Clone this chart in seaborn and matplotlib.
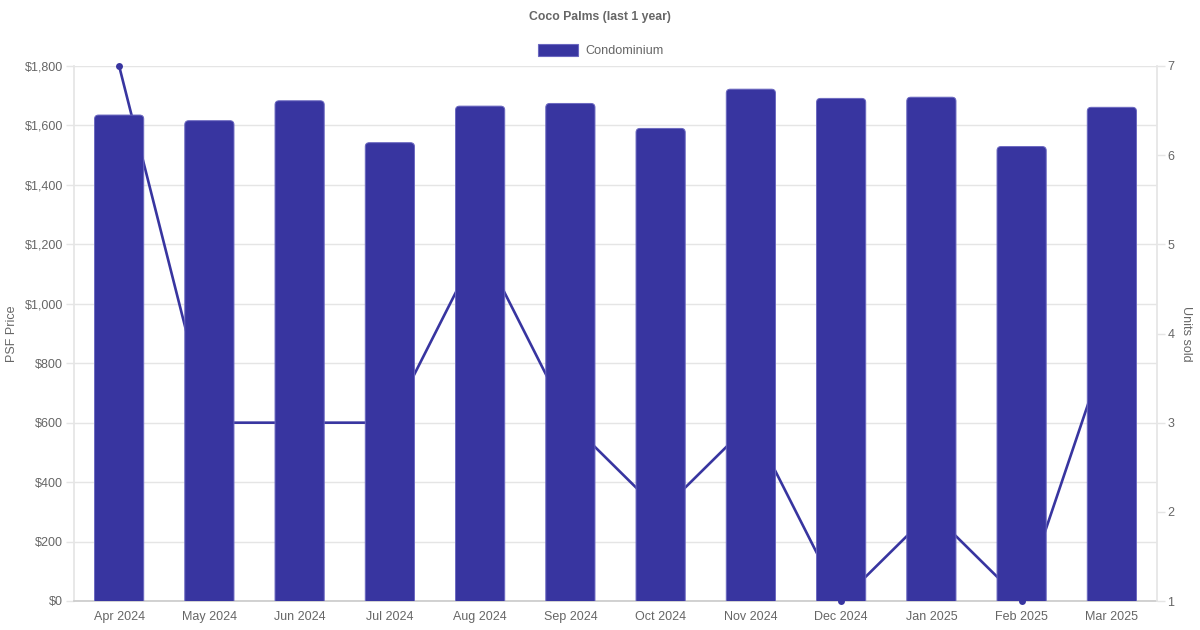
import matplotlib
matplotlib.use("Agg")
import matplotlib.pyplot as plt
import seaborn as sns
import pandas as pd
from matplotlib.patches import FancyBboxPatch
from matplotlib.ticker import FuncFormatter, MultipleLocator

months = ["Apr 2024", "May 2024", "Jun 2024", "Jul 2024", "Aug 2024", "Sep 2024",
          "Oct 2024", "Nov 2024", "Dec 2024", "Jan 2025", "Feb 2025", "Mar 2025"]
psf_price = [1635, 1616, 1683, 1542, 1665, 1674, 1590, 1722, 1691, 1695, 1529, 1661]
units_sold = [7, 3, 3, 3, 5, 3, 2, 3, 1, 2, 1, 4]

title = "Coco Palms (last 1 year)"
series_name = "Condominium"
left_label = "PSF Price"
right_label = "Units sold"

COLOR = "#3835A0"
EDGE = "#6B68C0"
TXT = "#666666"
GRID = "#e5e5e5"

df = pd.DataFrame({"month": months, "psf": psf_price, "units": units_sold})

sns.set_theme(style="white")
plt.rcParams["font.family"] = ["Liberation Sans", "DejaVu Sans"]

W, H = 1200, 630
fig = plt.figure(figsize=(12, 6.3), dpi=100)
L, R, T, B = 74, 1157, 66, 601
ax = fig.add_axes([L / W, (H - B) / H, (R - L) / W, (B - T) / H])
ax.set_zorder(0)

# line layer
ax_line = ax.twinx()
ax_line.set_zorder(1)
sns.lineplot(data=df, x="month", y="units", ax=ax_line, color=COLOR, linewidth=1.9,
             marker="o", markersize=5, markeredgewidth=0, sort=False)
for ln in ax_line.lines:
    ln.set_clip_on(False)

# bar layer
ax_bar = ax.twinx()
ax_bar.set_zorder(2)
sns.barplot(data=df, x="month", y="psf", ax=ax_bar, color=COLOR, width=0.545, saturation=1)

px_x = len(months) / (R - L)
px_y = 1800 / (B - T)
rad_px = 4
for p in list(ax_bar.patches):
    x0, w, h = p.get_x(), p.get_width(), p.get_height()
    p.set_visible(False)
    fb = FancyBboxPatch((x0, -rad_px * 3 * px_y), w, h + rad_px * 3 * px_y,
                        boxstyle=f"round,pad=0,rounding_size={rad_px * px_x}",
                        mutation_aspect=px_y / px_x,
                        facecolor=COLOR, edgecolor=EDGE, linewidth=0.7)
    ax_bar.add_patch(fb)
    fb.set_clip_path(ax_bar.patch)

ax_bar.set_ylim(0, 1800)
ax_bar.set_yticks([])
ax_bar.set_ylabel("")
ax_bar.set_xlabel("")
for s in ax_bar.spines.values():
    s.set_visible(False)
ax_bar.grid(False)

# line axis styling
ax_line.set_ylim(1, 7)
ax_line.yaxis.set_major_locator(MultipleLocator(1))
ax_line.tick_params(axis="y", length=6, width=1, color=GRID, pad=1.5, labelsize=9, labelcolor=TXT, right=True)
for s in ["top", "left", "bottom"]:
    ax_line.spines[s].set_visible(False)
ax_line.spines["right"].set_color(GRID)
ax_line.set_ylabel(right_label, color=TXT, fontsize=9, rotation=270, labelpad=13)
ax_line.set_xlabel("")
ax_line.grid(False)

# grid / left axis layer
ax.set_ylim(0, 1800)
ax.set_xlim(-0.5, len(months) - 0.5)
ax.yaxis.set_major_locator(MultipleLocator(200))
ax.yaxis.set_major_formatter(FuncFormatter(lambda v, p: f"${v:,.0f}"))
ax.grid(axis="y", color=GRID, linewidth=1)
ax.grid(axis="x", visible=False)
ax.set_xticks(range(len(months)))
ax.set_xticklabels(months)
ax.tick_params(axis="y", length=6, width=1, color=GRID, pad=2, labelsize=9, labelcolor=TXT, left=True)
ax.tick_params(axis="x", length=0, pad=7, labelsize=9, labelcolor=TXT, bottom=True, labelbottom=True)
for s in ["top", "right"]:
    ax.spines[s].set_visible(False)
ax.spines["left"].set_color(GRID)
ax.spines["bottom"].set_color("#cccccc")
ax.set_ylabel(left_label, color=TXT, fontsize=9, labelpad=5)
ax.set_xlabel("")

# title and legend
fig.text(0.5, 1 - 17 / H, title, ha="center", va="center", fontsize=8.8, fontweight="bold", color=TXT)
fig.patches.append(plt.Rectangle((538 / W, 1 - 56 / H), 40 / W, 12 / H, transform=fig.transFigure,
                                 facecolor=COLOR, edgecolor=EDGE, linewidth=0.8))
fig.text(585 / W, 1 - 50.5 / H, series_name, ha="left", va="center", fontsize=9.1, color=TXT)

fig.savefig("out.png", dpi=100)
